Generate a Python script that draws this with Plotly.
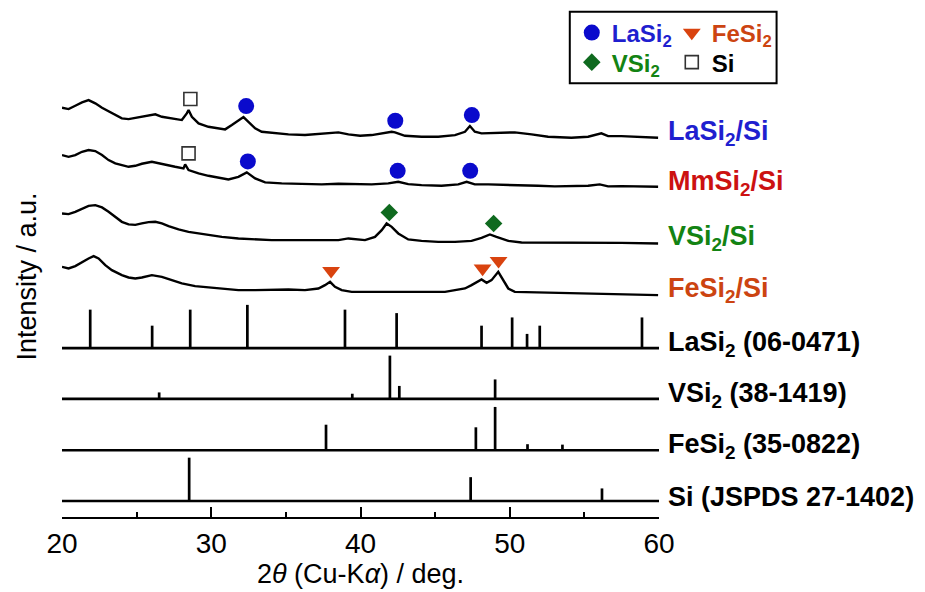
import plotly.graph_objects as go

# ------------------------------------------------------------------
# DATA
# ------------------------------------------------------------------
# measured XRD patterns: 2theta (deg) and intensity (a.u., relative to own baseline)
tt_LaSi2_Si = [20.00, 20.44, 20.89, 21.34, 21.78, 22.23, 22.68, 23.12, 23.57, 24.01, 24.46, 24.91,
               25.35, 25.80, 26.25, 26.69, 27.14, 27.58, 28.03, 28.36, 28.48, 28.70, 29.15, 29.81,
               30.48, 30.93, 31.38, 31.82, 32.16, 32.49, 32.94, 33.38, 34.05, 35.17, 36.28, 37.40,
               38.52, 39.19, 39.97, 40.75, 41.86, 42.09, 42.31, 42.98, 44.09, 45.21, 46.33, 47.00,
               47.33, 47.66, 48.11, 49.23, 50.34, 51.46, 52.57, 54.13, 55.25, 56.14, 56.59, 57.48,
               58.60, 59.94]
I_LaSi2_Si = [32.3, 31.0, 34.3, 37.7, 40.0, 36.7, 32.3, 29.0, 25.0, 21.7, 21.0, 22.3,
              23.7, 25.0, 25.7, 23.3, 22.3, 21.7, 20.0, 26.7, 30.0, 23.3, 16.7, 13.3,
              11.7, 10.7, 15.0, 20.0, 23.0, 18.3, 11.7, 8.3, 7.3, 5.7, 5.0, 6.0,
              7.7, 5.7, 4.3, 5.0, 7.3, 8.3, 7.7, 4.3, 3.3, 3.3, 5.0, 8.3,
              14.0, 8.3, 6.7, 7.3, 7.7, 5.7, 3.3, 2.3, 3.3, 6.7, 4.0, 4.0,
              3.3, 2.3]

tt_MmSi2_Si = [20.00, 20.44, 20.89, 21.34, 21.78, 22.23, 22.68, 23.12, 23.57, 24.01, 24.46, 24.91,
               25.35, 26.02, 26.47, 27.14, 27.58, 28.14, 28.25, 28.48, 29.15, 29.81, 30.48, 31.15,
               31.82, 32.38, 32.94, 33.61, 34.72, 36.28, 37.40, 38.52, 39.97, 40.75, 41.86, 42.53,
               43.20, 44.09, 45.43, 46.55, 47.11, 47.66, 48.56, 49.67, 50.79, 51.90, 53.02, 54.13,
               55.25, 56.03, 56.59, 57.48, 58.60, 59.94]
I_MmSi2_Si = [35.0, 33.3, 35.0, 38.3, 40.0, 39.0, 35.0, 30.0, 26.7, 25.0, 23.3, 24.3,
              26.3, 28.3, 26.7, 25.0, 23.3, 21.7, 25.7, 20.0, 16.7, 14.3, 12.3, 10.7,
              13.3, 17.7, 11.7, 7.7, 6.7, 6.3, 5.7, 6.3, 5.7, 5.7, 6.7, 8.3,
              6.0, 5.0, 4.3, 5.7, 8.3, 5.7, 5.7, 5.0, 5.0, 4.3, 3.7, 4.0,
              4.3, 5.7, 3.7, 4.0, 3.7, 3.3]

tt_VSi2_Si = [20.00, 20.44, 20.89, 21.34, 21.78, 22.23, 22.68, 23.12, 23.57, 24.01, 24.46, 24.91,
              25.35, 25.80, 26.25, 26.69, 27.14, 27.81, 28.48, 29.15, 29.81, 30.71, 31.82, 32.94,
              34.05, 35.17, 36.28, 37.40, 38.52, 39.19, 39.97, 40.30, 40.97, 41.42, 41.75, 42.09,
              42.53, 43.20, 44.09, 45.21, 46.33, 47.44, 48.11, 48.67, 49.11, 49.90, 50.79, 53.02,
              55.25, 57.48, 59.94]
I_VSi2_Si = [31.7, 31.0, 33.3, 36.7, 39.3, 40.0, 37.7, 33.3, 28.3, 23.3, 20.7, 20.3,
             21.7, 23.0, 23.3, 21.7, 19.0, 15.7, 13.3, 11.7, 10.0, 8.3, 6.7, 5.7,
             5.0, 5.0, 5.0, 4.3, 5.0, 6.7, 5.0, 5.0, 8.3, 15.0, 21.7, 18.3,
             11.7, 5.7, 4.3, 3.3, 3.3, 4.3, 7.3, 10.7, 8.3, 4.3, 2.7, 2.7,
             2.3, 2.3, 1.7]

tt_FeSi2_Si = [20.00, 20.44, 20.89, 21.34, 21.78, 22.12, 22.45, 22.90, 23.34, 24.01, 24.46, 24.91,
               25.35, 26.02, 26.69, 27.36, 28.03, 28.92, 29.81, 30.71, 31.82, 32.94, 34.05, 35.17,
               36.28, 37.18, 37.62, 37.96, 38.29, 38.74, 39.41, 39.97, 41.86, 44.09, 45.66, 46.33,
               47.00, 47.44, 47.89, 48.11, 48.45, 48.78, 49.23, 49.56, 49.90, 50.34, 51.90, 54.13,
               56.37, 59.94]
I_FeSi2_Si = [30.3, 28.7, 31.0, 35.3, 38.7, 41.0, 38.7, 32.0, 27.0, 22.0, 19.7, 18.7,
              19.7, 22.0, 20.3, 17.0, 13.7, 11.0, 9.7, 8.7, 7.0, 7.0, 7.7, 7.7,
              7.0, 8.7, 12.0, 15.3, 10.3, 7.0, 5.3, 5.3, 4.7, 5.3, 5.3, 7.0,
              8.7, 12.0, 15.3, 17.7, 14.3, 17.0, 25.3, 17.0, 8.7, 5.3, 4.7, 3.7,
              3.0, 2.0]

# reference stick patterns: positions (deg) and relative intensities (max 100)
ref_LaSi2_pos = [21.89, 26.04, 28.59, 32.42, 38.96, 42.42, 48.11, 50.16, 51.16, 52.01, 58.86]
ref_LaSi2_int = [89, 52, 89, 100, 89, 81, 52, 71, 33, 52, 71]
ref_VSi2_pos = [26.51, 39.45, 41.97, 42.60, 49.02]
ref_VSi2_int = [15, 12, 100, 30, 45]
ref_FeSi2_pos = [33.23, 37.69, 47.73, 49.02, 51.19, 53.53]
ref_FeSi2_int = [2, 59, 53, 100, 14, 13]
ref_Si_pos = [28.52, 47.38, 56.18]
ref_Si_int = [100, 55, 29]

# identified peak positions (deg) for phase markers, per measured pattern
peaks_LaSi2 = {"LaSi2/Si": [32.34, 42.33, 47.46], "MmSi2/Si": [32.45, 42.49, 47.35]}
peaks_Si = {"LaSi2/Si": [28.60], "MmSi2/Si": [28.48]}
peaks_VSi2 = {"VSi2/Si": [41.93, 48.92]}
peaks_FeSi2 = {"FeSi2/Si": [38.03, 48.18, 49.25]}

x_ticks = [20, 30, 40, 50, 60]

# ------------------------------------------------------------------
# LAYOUT / STYLE
# ------------------------------------------------------------------
FONT = "Liberation Sans"
C_BLUE, C_RED, C_GREEN, C_ORANGE = "#1f1fcf", "#cc1111", "#138313", "#cc4411"
M_BLUE, M_GREEN, M_ORANGE = "#0a0acc", "#0f6a1f", "#d9430f"

# page offset of the figure inside the browser window (default body margin)
PAGE_OFF = 8
FIG_W, FIG_H = 925 - PAGE_OFF, 592 - PAGE_OFF
# plot area in window pixels
AX_L, AX_R, AX_T, AX_B = 61.7, 659.3, PAGE_OFF, 516.7
PLOT_L = AX_L - PAGE_OFF
PLOT_R = FIG_W - (AX_R - PAGE_OFF)
PLOT_T = AX_T - PAGE_OFF
PLOT_B = FIG_H - (AX_B - PAGE_OFF)
plot_w = AX_R - AX_L
plot_h = AX_B - AX_T


def px_x(px):
    return (px - AX_L) / plot_w


def px_y(py):
    return (AX_B - py) / plot_h


patterns = [
    ("LaSi2/Si", tt_LaSi2_Si, I_LaSi2_Si, 376.7, "LaSi<sub>2</sub>/Si", C_BLUE),
    ("MmSi2/Si", tt_MmSi2_Si, I_MmSi2_Si, 326.7, "MmSi<sub>2</sub>/Si", C_RED),
    ("VSi2/Si", tt_VSi2_Si, I_VSi2_Si, 271.7, "VSi<sub>2</sub>/Si", C_GREEN),
    ("FeSi2/Si", tt_FeSi2_Si, I_FeSi2_Si, 219.7, "FeSi<sub>2</sub>/Si", C_ORANGE),
]
offsets = {p[0]: p[3] for p in patterns}
series = {p[0]: (p[1], p[2]) for p in patterns}

sticks = [
    (ref_LaSi2_pos, ref_LaSi2_int, 168.7, "LaSi<sub>2</sub> (06-0471)"),
    (ref_VSi2_pos, ref_VSi2_int, 118.0, "VSi<sub>2</sub> (38-1419)"),
    (ref_FeSi2_pos, ref_FeSi2_int, 66.7, "FeSi<sub>2</sub> (35-0822)"),
    (ref_Si_pos, ref_Si_int, 16.0, "Si (JSPDS 27-1402)"),
]
STICK_SCALE = 0.433
MARK_GAP = 11.0
LABEL_SIZE = 27

fig = go.Figure()
annotations = []

for name, xs, ys, off, label, col in patterns:
    fig.add_trace(go.Scatter(x=xs, y=[v + off for v in ys], mode="lines",
                             line=dict(color="black", width=2.4), showlegend=False,
                             hoverinfo="skip"))
    annotations.append(dict(text="<b>" + label + "</b>", x=1, xref="paper", xanchor="left",
                            xshift=7, y=off + 7, yref="y", yanchor="middle", showarrow=False,
                            font=dict(family=FONT, size=LABEL_SIZE, color=col)))

for pos, inten, off, label in sticks:
    sx, sy = [20, 60, None], [off, off, None]
    for p, v in zip(pos, inten):
        sx += [p, p, None]
        sy += [off, off + v * STICK_SCALE, None]
    fig.add_trace(go.Scatter(x=sx, y=sy, mode="lines", line=dict(color="black", width=2.7),
                             showlegend=False, hoverinfo="skip"))
    annotations.append(dict(text="<b>" + label + "</b>", x=1, xref="paper", xanchor="left",
                            xshift=7, y=off + 4, yref="y", yanchor="middle", showarrow=False,
                            font=dict(family=FONT, size=LABEL_SIZE, color="black")))


def marker_points(peaks):
    mx, my = [], []
    for pname, plist in peaks.items():
        xs, ys = series[pname]
        for p in plist:
            local = [v for t, v in zip(xs, ys) if abs(t - p) <= 0.35]
            mx.append(p)
            my.append(offsets[pname] + max(local) + MARK_GAP)
    return mx, my


def lname(txt, col):
    return '<b><span style="color:%s">%s</span></b>' % (col, txt)


mx, my = marker_points(peaks_LaSi2)
fig.add_trace(go.Scatter(x=mx, y=my, mode="markers", name=lname("LaSi<sub>2</sub>", C_BLUE),
                         marker=dict(symbol="circle", size=16, color=M_BLUE), legend="legend"))
mx, my = marker_points(peaks_FeSi2)
fig.add_trace(go.Scatter(x=mx, y=my, mode="markers", name=lname("FeSi<sub>2</sub>", C_ORANGE),
                         marker=dict(symbol="triangle-down", size=15.5, color=M_ORANGE), legend="legend"))
mx, my = marker_points(peaks_VSi2)
fig.add_trace(go.Scatter(x=mx, y=my, mode="markers", name=lname("VSi<sub>2</sub>", C_GREEN),
                         marker=dict(symbol="diamond", size=13.5, color=M_GREEN), legend="legend2"))
mx, my = marker_points(peaks_Si)
fig.add_trace(go.Scatter(x=mx, y=my, mode="markers", name=lname("Si", "black"),
                         marker=dict(symbol="square-open", size=13, color="#333333",
                                     line=dict(width=1.6, color="#333333")), legend="legend2"))

# y-axis title
annotations.append(dict(text="Intensity / a.u.", textangle=-90, x=px_x(27),
                        xref="paper", xanchor="center", y=px_y(276), yref="paper",
                        yanchor="middle", showarrow=False,
                        font=dict(family=FONT, size=27, color="black")))

leg_common = dict(orientation="h", xanchor="left", yanchor="middle", entrywidth=55,
                  entrywidthmode="pixels", bgcolor="rgba(0,0,0,0)", borderwidth=0,
                  font=dict(family=FONT, size=24, color="black"), itemclick=False,
                  itemdoubleclick=False, traceorder="normal")
legend1 = dict(leg_common, x=px_x(572), y=px_y(33))
legend2 = dict(leg_common, x=px_x(572), y=px_y(62.5))

fig.update_layout(
    width=FIG_W, height=FIG_H,
    margin=dict(l=PLOT_L, r=PLOT_R, t=PLOT_T, b=PLOT_B, autoexpand=False),
    paper_bgcolor="white", plot_bgcolor="white",
    font=dict(family=FONT, color="black"),
    legend=legend1, legend2=legend2,
    annotations=annotations,
    shapes=[dict(type="rect", xref="paper", yref="paper",
                 x0=px_x(570), x1=px_x(777), y0=px_y(83.3), y1=px_y(11.7),
                 line=dict(color="black", width=2), fillcolor="rgba(0,0,0,0)")],
    xaxis=dict(range=[20, 60], tickvals=x_ticks, ticktext=[str(v) for v in x_ticks],
               ticks="inside", ticklen=10, tickwidth=2, tickcolor="black",
               showline=True, linewidth=2, linecolor="black", showgrid=False, zeroline=False,
               tickfont=dict(family=FONT, size=28, color="black"),
               minor=dict(tickvals=[25, 35, 45, 55], ticks="inside", ticklen=5, tickwidth=2,
                          tickcolor="black", showgrid=False),
               title=dict(text="2<i>θ</i> (Cu-K<i>α</i>) / deg.", standoff=6,
                          font=dict(family=FONT, size=27, color="black"))),
    yaxis=dict(range=[0, plot_h], visible=False, fixedrange=True),
)

fig.write_html("out.html")
